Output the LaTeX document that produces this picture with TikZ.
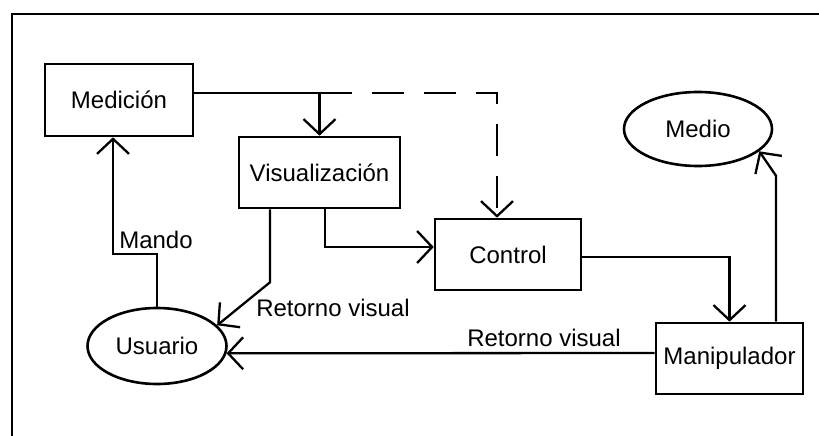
\documentclass[tikz,border=0pt]{standalone}
\usepackage{fontspec}
\setmainfont{Liberation Sans}
\usetikzlibrary{arrows.meta,shapes.geometric}
\begin{document}
\begin{tikzpicture}[x=1pt,y=-1pt,
  every node/.style={font=\fontsize{24}{28}\selectfont, inner sep=0pt},
  stepbox/.style={draw, line width=2.6pt, rectangle, minimum width=#1, minimum height=71pt},
  oval/.style={draw, line width=2.6pt, ellipse},
  conn/.style={line width=2.3pt, -{Straight Barb[length=15pt,width=32pt]}},
  dashline/.style={dash pattern=on 32pt off 20pt},
  lbl/.style={}]
\useasboundingbox (0,0) rectangle (819,436);
\draw[line width=2.6pt] (11,14) -- (819,14);
\draw[line width=2.6pt] (12,14) -- (12,436);

\node[stepbox=148pt, minimum height=72pt] (medicion) at (119,100) {Medición};
\node[stepbox=161pt] (visual) at (319.5,172.5) {Visualización};
\node[stepbox=146pt] (control) at (508,254.5) {Control};
\node[stepbox=147pt] (manip) at (729.5,358.5) {Manipulador};
\node[oval, minimum width=148pt, minimum height=74pt] (medio) at (698,129) {Medio};
\node[oval, minimum width=139pt, minimum height=76pt] (usuario) at (157,346) {Usuario};

\coordinate (j) at (319.5,93);

\draw[conn] ([yshift=7pt]medicion.east) -| (visual.north);
\draw[conn, dashline] (j) -| ([xshift=-11pt]control.north);
\draw[conn] ([xshift=5.5pt]visual.south) |- ([yshift=7.5pt]control.west);
\draw[conn] ([xshift=-49.5pt]visual.south) -- ++(0,73) -- (usuario.19);
\draw[conn] ([yshift=-2.5pt]control.east) -| (manip.north);
\draw[conn] ([xshift=46.5pt]manip.north) -- ++(0,-146) -- (medio.-20);
\draw[conn] ([yshift=5.5pt]manip.west) -- (usuario.-6);
\draw[conn] (usuario.north) -- ++(0,-53) -| ([xshift=-6pt]medicion.south);

\node[lbl] (lmando) at (156,240) {Mando};
\node[lbl] (lret1) at (333,308) {Retorno visual};
\node[lbl] (lret2) at (544,338) {Retorno visual};
\end{tikzpicture}
\end{document}
